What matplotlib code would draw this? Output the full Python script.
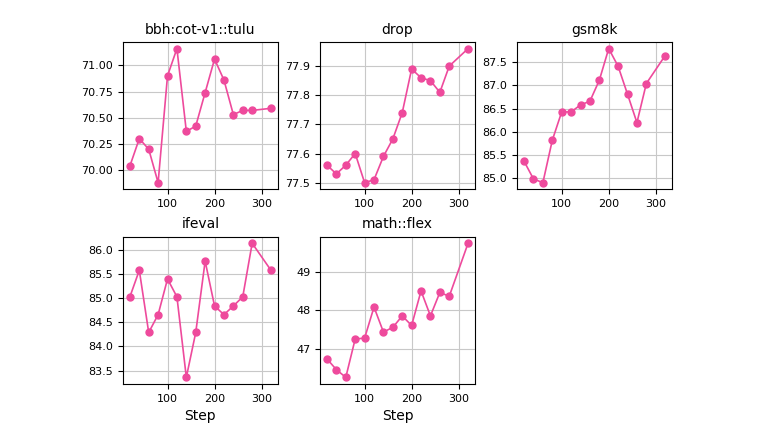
import matplotlib
matplotlib.use('Agg')
import matplotlib.pyplot as plt
from matplotlib.ticker import MultipleLocator

steps = [20, 40, 60, 80, 100, 120, 140, 160, 180, 200, 220, 240, 260, 280, 320]

bbh = [70.04, 70.30, 70.20, 69.88, 70.90, 71.16, 70.37, 70.42, 70.74, 71.06, 70.86, 70.53, 70.57, 70.57, 70.59]
drop = [77.56, 77.53, 77.56, 77.60, 77.50, 77.51, 77.59, 77.65, 77.74, 77.89, 77.86, 77.85, 77.81, 77.90, 77.96]
gsm8k = [85.37, 84.99, 84.91, 85.82, 86.43, 86.43, 86.58, 86.66, 87.11, 87.79, 87.41, 86.81, 86.20, 87.04, 87.64]
ifeval = [85.03, 85.58, 84.29, 84.66, 85.40, 85.03, 83.36, 84.29, 85.77, 84.84, 84.66, 84.84, 85.03, 86.14, 85.58]
math_flex = [46.73, 46.45, 46.25, 47.25, 47.27, 48.08, 47.43, 47.55, 47.85, 47.60, 48.50, 47.85, 48.46, 48.36, 49.74]

titles = ['bbh:cot-v1::tulu', 'drop', 'gsm8k', 'ifeval', 'math::flex']
series = [bbh, drop, gsm8k, ifeval, math_flex]
ytick_step = [0.25, 0.1, 0.5, 0.5, 1.0]

color = '#ee4a9c'

fig, axes = plt.subplots(2, 3, figsize=(7.63, 4.32), dpi=100)
fig.subplots_adjust(left=0.161, right=0.881, top=0.903, bottom=0.111,
                    wspace=0.27, hspace=0.32)

for i, ax in enumerate(axes.flat):
    if i >= len(series):
        ax.axis('off')
        continue
    ax.plot(steps, series[i], color=color, marker='o', markersize=5, lw=1.2)
    ax.set_title(titles[i], fontsize=10)
    ax.grid(True, color='#c8c8c8')
    ax.set_axisbelow(True)
    ax.tick_params(labelsize=8)
    ax.set_xticks([100, 200, 300])
    ax.yaxis.set_major_locator(MultipleLocator(ytick_step[i]))
    if i >= 3:
        ax.set_xlabel('Step', fontsize=10)

plt.savefig('out.png', dpi=100)
